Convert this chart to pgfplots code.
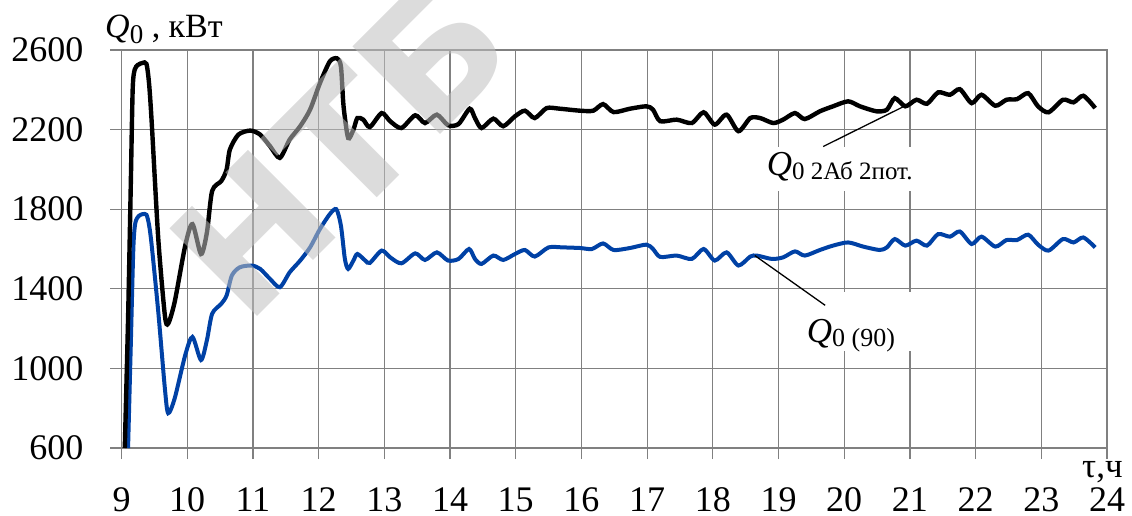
\documentclass[border=0pt]{standalone}
\usepackage{fontspec}
\setmainfont{Liberation Serif}
\newfontfamily\wmfont{DejaVu Sans}
\usepackage{pgfplots}
\pgfplotsset{compat=1.18}
\definecolor{gridgray}{RGB}{128,128,128}
\definecolor{qblue}{RGB}{0,65,165}

\pgfplotstableread{
t v
9.05 600
9.10 1250
9.14 1900
9.17 2400
9.20 2500
9.25 2525
9.32 2535
9.38 2530
9.42 2430
9.46 2235
9.56 1650
9.66 1267
9.71 1225
9.81 1335
9.97 1617
10.08 1725
10.21 1575
10.30 1683
10.38 1892
10.52 1942
10.60 2000
10.65 2100
10.78 2175
10.96 2195
11.11 2175
11.26 2117
11.41 2058
11.56 2150
11.72 2217
11.87 2300
12.02 2433
12.17 2542
12.28 2558
12.34 2517
12.38 2317
12.45 2158
12.53 2200
12.59 2258
12.68 2250
12.78 2213
12.96 2283
13.09 2242
13.26 2208
13.47 2272
13.62 2233
13.80 2275
13.97 2222
14.13 2228
14.30 2305
14.38 2258
14.48 2208
14.66 2255
14.81 2217
14.99 2267
15.14 2295
15.29 2258
15.47 2308
15.67 2305
15.98 2295
16.18 2295
16.33 2328
16.49 2288
16.74 2305
16.99 2317
17.09 2300
17.20 2242
17.45 2250
17.68 2233
17.86 2287
18.03 2225
18.21 2275
18.39 2192
18.57 2258
18.72 2258
18.92 2233
19.07 2250
19.25 2283
19.40 2253
19.63 2292
19.83 2317
20.06 2342
20.24 2317
20.49 2292
20.65 2300
20.77 2358
20.93 2317
21.10 2350
21.26 2330
21.43 2387
21.61 2375
21.76 2403
21.94 2333
22.09 2375
22.30 2320
22.47 2350
22.63 2353
22.80 2383
22.95 2317
23.11 2287
23.33 2350
23.49 2337
23.64 2370
23.82 2308
}\blackdata

\pgfplotstableread{
t v
9.10 600
9.14 1100
9.18 1600
9.21 1730
9.26 1765
9.32 1775
9.38 1772
9.42 1720
9.46 1617
9.56 1283
9.66 900
9.71 775
9.81 850
9.97 1067
10.08 1158
10.21 1042
10.30 1142
10.38 1275
10.52 1325
10.60 1367
10.68 1467
10.80 1508
10.98 1517
11.11 1500
11.26 1450
11.41 1408
11.56 1483
11.72 1542
11.87 1608
12.02 1700
12.17 1775
12.27 1800
12.34 1717
12.40 1550
12.45 1500
12.53 1542
12.59 1575
12.71 1542
12.78 1530
12.96 1592
13.09 1558
13.26 1528
13.47 1578
13.62 1545
13.80 1583
13.97 1542
14.13 1550
14.29 1600
14.38 1550
14.48 1525
14.66 1567
14.81 1545
14.99 1575
15.14 1595
15.29 1562
15.50 1608
15.72 1608
15.98 1605
16.16 1600
16.33 1628
16.49 1595
16.74 1605
16.99 1622
17.09 1600
17.20 1560
17.45 1567
17.68 1550
17.86 1600
18.03 1542
18.21 1583
18.39 1517
18.57 1562
18.67 1567
18.90 1550
19.07 1558
19.25 1588
19.40 1567
19.63 1595
19.83 1617
20.06 1633
20.29 1612
20.54 1595
20.65 1608
20.77 1650
20.93 1617
21.10 1642
21.26 1617
21.43 1675
21.61 1662
21.76 1688
21.94 1625
22.09 1662
22.30 1612
22.47 1645
22.63 1645
22.80 1672
22.95 1622
23.11 1592
23.33 1650
23.49 1633
23.64 1658
23.82 1608
}\bluedata

\begin{document}
\begin{tikzpicture}[x=1pt,y=1pt]
\begin{axis}[
  at={(121.5pt,67pt)}, anchor=south west,
  scale only axis, width=985.5pt, height=398pt,
  xmin=9, xmax=24, ymin=600, ymax=2600,
  xtick={9,...,24}, ytick={600,1000,...,2600},
  xtick pos=bottom, ytick pos=left,
  grid=major, major grid style={gridgray, line width=1.2pt},
  axis line style={gridgray, line width=1.2pt},
  tick style={gridgray, line width=1.2pt},
  tick align=outside, major tick length=11pt,
  tick label style={font=\fontsize{36}{38}\selectfont},
  /pgf/number format/assume math mode=true,
  /pgf/number format/1000 sep={},
  xticklabel style={anchor=base, inner sep=0pt, yshift=-52pt},
  yticklabel style={anchor=east, inner sep=0pt, xshift=-27pt},
]
\addplot[qblue, line width=4pt, smooth, tension=0.45] table[x=t,y=v]{\bluedata};
\addplot[black, line width=4.4pt, smooth, tension=0.45] table[x=t,y=v]{\blackdata};
\fill[white] (axis cs:18.79,2115) rectangle (axis cs:21.08,1890);
\fill[white] (axis cs:19.33,1385) rectangle (axis cs:21.08,1085);
\draw[black, line width=1.3pt] (axis cs:19.68,2115) -- (axis cs:20.90,2315);
\draw[black, line width=1.3pt] (axis cs:18.64,1567) -- (axis cs:19.71,1317);
\node[anchor=base west, inner sep=0pt] at (axis cs:18.82,1970)
  {\fontsize{35}{36}\selectfont\itshape Q\upshape\fontsize{25}{28}\selectfont\raisebox{-4pt}{0 2Аб 2пот.}};
\node[anchor=base west, inner sep=0pt] at (axis cs:19.43,1130)
  {\fontsize{35}{36}\selectfont\itshape Q\upshape\fontsize{26}{28}\selectfont\raisebox{-4pt}{0 (90)}};
\end{axis}
\node[anchor=base west, inner sep=0pt] at (105,477)
  {\fontsize{34}{36}\selectfont\itshape Q\upshape\fontsize{27}{28}\selectfont\raisebox{-6pt}{0}\fontsize{34}{36}\selectfont\ , кВт};
\node[anchor=base west, inner sep=0pt] at (1082,38) {\fontsize{35}{37}\selectfont τ,ч};
\node[rotate=45, text=black!25, opacity=0.55, font=\wmfont\bfseries\fontsize{170}{175}\selectfont] at (340,368) {НТБ};
\pgfresetboundingbox
\useasboundingbox (0,0) rectangle (1132,515);
\end{tikzpicture}
\end{document}
